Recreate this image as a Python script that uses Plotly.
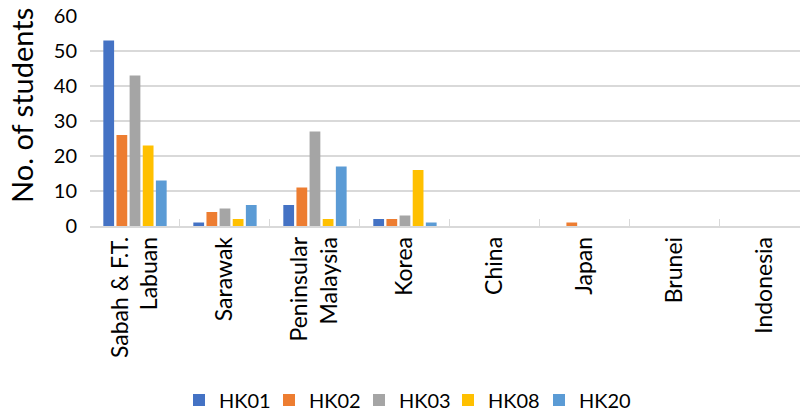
import plotly.graph_objects as go

regions = ["Sabah & F.T.<br>Labuan", "Sarawak", "Peninsular<br>Malaysia", "Korea",
           "China", "Japan", "Brunei", "Indonesia"]
hk01 = [53, 1, 6, 2, 0, 0, 0, 0]
hk02 = [26, 4, 11, 2, 0, 1, 0, 0]
hk03 = [43, 5, 27, 3, 0, 0, 0, 0]
hk08 = [23, 2, 2, 16, 0, 0, 0, 0]
hk20 = [13, 6, 17, 1, 0, 0, 0, 0]
y_ticks = [0, 10, 20, 30, 40, 50, 60]
y_title = "No. of students"

series = [
    ("HK01", hk01, "#4472C4"),
    ("HK02", hk02, "#ED7D31"),
    ("HK03", hk03, "#A5A5A5"),
    ("HK08", hk08, "#FFC000"),
    ("HK20", hk20, "#5B9BD5"),
]

# left edge (px) of each legend entry along the bottom row
legend_left_px = [179, 269, 359, 448, 539]

PLOT_L, PLOT_W = 90, 710

fig = go.Figure()
legend_layouts = {}
for i, (name, vals, color) in enumerate(series):
    key = "legend" if i == 0 else f"legend{i + 1}"
    fig.add_trace(go.Bar(x=regions, y=vals, name=name, marker_color=color,
                         marker_line_width=0, legend=key, showlegend=True))
    legend_layouts[key] = dict(
        orientation="h", x=(legend_left_px[i] - PLOT_L) / PLOT_W, xanchor="left",
        yref="container", y=0.034, yanchor="middle",
        font=dict(size=20), itemwidth=30, bgcolor="rgba(0,0,0,0)",
    )

font = "Lato, Open Sans, sans-serif"
fig.update_layout(
    width=800, height=414, showlegend=True,
    margin=dict(l=PLOT_L, r=0, t=16, b=188),
    paper_bgcolor="white", plot_bgcolor="white",
    barmode="group", bargap=0.27, bargroupgap=0.18,
    font=dict(family=font, color="#000000"),
    xaxis=dict(
        range=[-0.5, 7.39], tickangle=-90, tickfont=dict(size=23),
        showline=True, linecolor="#D9D9D9", linewidth=1.5,
        ticks="inside", tickson="boundaries", ticklen=7, tickcolor="#D9D9D9",
        showgrid=False, fixedrange=True, automargin=False,
    ),
    yaxis=dict(
        range=[0, 60], tickvals=y_ticks, tickfont=dict(size=20),
        showgrid=True, gridcolor="#D9D9D9", gridwidth=1.5,
        zeroline=False, ticklabelstandoff=12, automargin=False,
    ),
    annotations=[dict(
        text=y_title, textangle=-90, showarrow=False,
        xref="paper", yref="paper", x=(21 - PLOT_L) / PLOT_W, y=(226 - 106) / 210,
        xanchor="center", yanchor="middle", font=dict(size=29),
    )],
    **legend_layouts,
)

fig.write_html("out.html")
